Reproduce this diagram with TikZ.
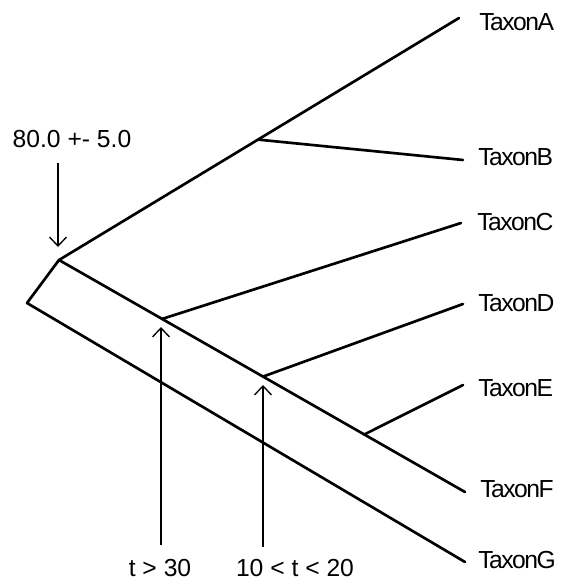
\documentclass[tikz,border=0pt]{standalone}
\usepackage{fontspec}
\setmainfont{Liberation Sans}
\newfontfamily\tightsans[LetterSpace=-6]{Liberation Sans}
\usetikzlibrary{arrows.meta,calc}
\begin{document}
\begin{tikzpicture}[x=0.75pt,y=-0.75pt,
  branch/.style={line width=2pt,line cap=round,line join=round},
  pointer/.style={line width=1pt,-{Straight Barb[length=6.75pt,width=12.75pt,line width=1pt]}},
  taxon/.style={anchor=west,inner sep=0pt,font=\tightsans\fontsize{18.5}{21}\selectfont},
  note/.style={inner sep=0pt,font=\fontsize{18.5}{21}\selectfont}]
\useasboundingbox (0,0) rectangle (561,585);
% internal nodes and leaves
\coordinate (root) at (27,303);
\coordinate (n1) at (59,260);
\coordinate (la) at (459,18);
\coordinate (lf) at (465,492);
\coordinate (lg) at (465,562);
\coordinate (nb) at ($(n1)!0.4975!(la)$);
\coordinate (nc) at ($(n1)!0.254!(lf)$);
\coordinate (nd) at ($(n1)!0.5025!(lf)$);
\coordinate (ne) at ($(n1)!0.752!(lf)$);
\coordinate (lb) at (463,160);
\coordinate (lc) at (461,223);
\coordinate (ld) at (463,304);
\coordinate (le) at (463,385);
% branches
\draw[branch] (lg) -- (root) -- (n1) -- (la);
\draw[branch] (n1) -- (lf);
\draw[branch] (nb) -- (lb);
\draw[branch] (nc) -- (lc);
\draw[branch] (nd) -- (ld);
\draw[branch] (ne) -- (le);
% leaf labels
\node[taxon] (ta) at (479,22) {TaxonA};
\node[taxon] (tb) at (478,157) {TaxonB};
\node[taxon] (tc) at (477,222) {TaxonC};
\node[taxon] (td) at (478,303) {TaxonD};
\node[taxon] (te) at (478,388) {TaxonE};
\node[taxon] (tf) at (480,489) {TaxonF};
\node[taxon] (tg) at (478,560) {TaxonG};
% age annotations
\node[note] (age) at (72,139) {80.0 +- 5.0};
\coordinate (agetop) at (58,163);
\coordinate (agetip) at (58,247);
\draw[pointer] (agetop) -- (agetip);
\node[note] (lc30) at (160,568) {t > 30};
\coordinate (c30bot) at (161,545);
\coordinate (c30tip) at (161,327);
\draw[pointer] (c30bot) -- (c30tip);
\node[note] (lc1020) at (295,568) {10 < t < 20};
\coordinate (c1020bot) at (263,547);
\coordinate (c1020tip) at (263,385);
\draw[pointer] (c1020bot) -- (c1020tip);
\end{tikzpicture}
\end{document}
